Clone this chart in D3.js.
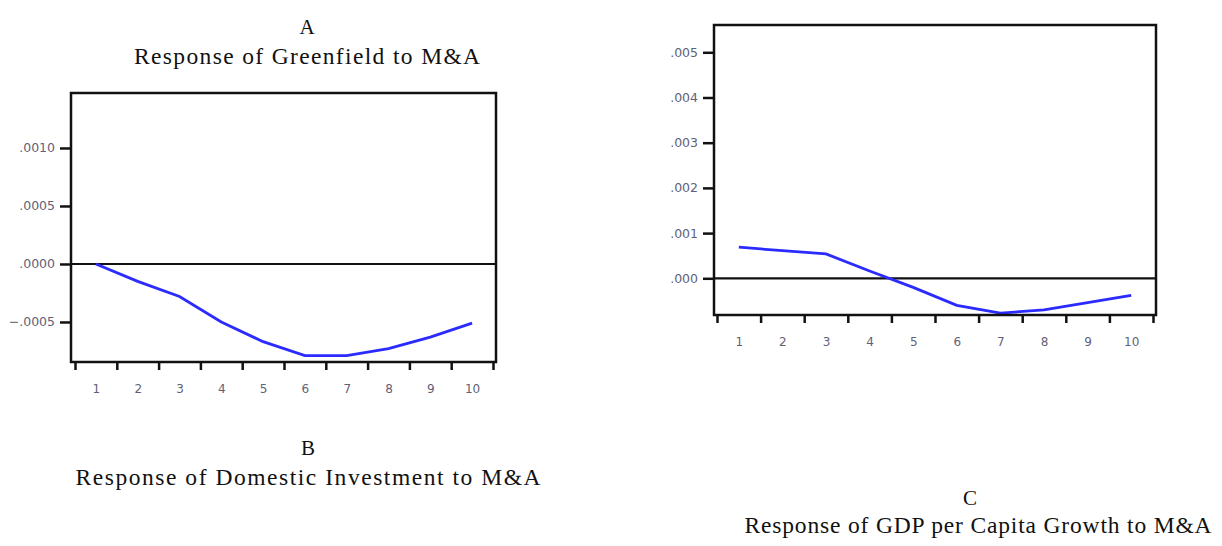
<!DOCTYPE html>
<html>
<head>
<meta charset="utf-8">
<script src="https://cdn.jsdelivr.net/npm/d3@7"></script>
<style>
  body { margin: 0; background: #fff; }
  svg { display: block; }
</style>
</head>
<body>
<svg id="chart" width="1222" height="546"></svg>
<script>
// periods 1..10
var periods = [1, 2, 3, 4, 5, 6, 7, 8, 9, 10];

// A - Response of Greenfield to M&A
var greenfield = [0.0, -0.00015, -0.00028, -0.00050, -0.00067, -0.00079, -0.00079, -0.00073, -0.00063, -0.00051];
var greenfieldTicks = [-0.0005, 0.0, 0.0005, 0.0010];

// C - Response of GDP per Capita Growth to M&A
var gdpGrowth = [0.00069, 0.00061, 0.00054, 0.00016, -0.00020, -0.00060, -0.00077, -0.00070, -0.00054, -0.00038];
var gdpTicks = [0.000, 0.001, 0.002, 0.003, 0.004, 0.005];

var svg = d3.select("#chart");

function eviewsFmt(dec) {
  var f = d3.format("." + dec + "f");
  return function(v) { return f(v).replace("0.", "."); };
}

function drawPanel(p) {
  var x = d3.scaleLinear().domain([0.5, 10.5]).range([p.x0, p.x1]);
  var y = d3.scaleLinear().domain(p.ydomain).range([p.bottom, p.top]);
  var g = svg.append("g");

  // x tick marks, between periods
  g.append("g")
    .attr("transform", "translate(0," + p.bottom + ")")
    .call(d3.axisBottom(x).tickValues(d3.range(0.5, 11, 1)).tickSize(8).tickSizeOuter(0).tickFormat(""))
    .call(function(a) {
      a.select(".domain").remove();
      a.selectAll("line").attr("stroke", "#111").attr("stroke-width", 2.5);
    });

  // x labels
  g.append("g")
    .attr("transform", "translate(0," + (p.bottom + 19) + ")")
    .call(d3.axisBottom(x).tickValues(periods).tickSize(0).tickFormat(d3.format("d")))
    .call(function(a) {
      a.select(".domain").remove();
      a.selectAll("text").attr("fill", "#5f5f78").style("font-family", "DejaVu Sans").style("font-size", "12px");
    });

  // y axis
  g.append("g")
    .attr("transform", "translate(" + p.left + ",0)")
    .call(d3.axisLeft(y).tickValues(p.ticks).tickSize(11).tickPadding(5).tickFormat(eviewsFmt(p.dec)))
    .call(function(a) {
      a.select(".domain").remove();
      a.selectAll("line").attr("stroke", "#111").attr("stroke-width", 2.5);
      a.selectAll("text").attr("fill", "#5f5f78").style("font-family", "DejaVu Sans").style("font-size", "12.5px");
    });

  // zero line
  g.append("line")
    .attr("x1", p.left).attr("x2", p.right)
    .attr("y1", y(0)).attr("y2", y(0))
    .attr("stroke", "#111").attr("stroke-width", 2.2);

  // response line
  var line = d3.line()
    .x(function(d, i) { return x(periods[i]); })
    .y(function(d) { return y(d); });
  g.append("path")
    .datum(p.values)
    .attr("d", line)
    .attr("fill", "none")
    .attr("stroke", "#2b2bff")
    .attr("stroke-width", 2.8);

  // frame
  g.append("rect")
    .attr("x", p.left).attr("y", p.top)
    .attr("width", p.right - p.left).attr("height", p.bottom - p.top)
    .attr("fill", "none").attr("stroke", "#111").attr("stroke-width", 2.5);
}

drawPanel({
  left: 71, right: 496, top: 93, bottom: 362, x0: 75, x1: 493,
  ydomain: [-0.000845, 0.001474], ticks: greenfieldTicks, dec: 4, values: greenfield
});

drawPanel({
  left: 714, right: 1156, top: 25, bottom: 315, x0: 717, x1: 1153,
  ydomain: [-0.000812, 0.005604], ticks: gdpTicks, dec: 3, values: gdpGrowth
});

// captions (w = width the line takes in the figure)
var captions = [
  { x: 307, y: 34, text: "A", w: 0 },
  { x: 307, y: 64, text: "Response of Greenfield to M&A", w: 346 },
  { x: 308, y: 455, text: "B", w: 0 },
  { x: 308, y: 485, text: "Response of Domestic Investment to M&A", w: 465 },
  { x: 970, y: 505, text: "C", w: 0 },
  { x: 978, y: 533, text: "Response of GDP per Capita Growth to M&A", w: 467 }
];

var cap = svg.selectAll("text.caption")
  .data(captions)
  .enter().append("text")
  .attr("class", "caption")
  .attr("x", function(d) { return d.x; })
  .attr("y", function(d) { return d.y; })
  .attr("text-anchor", "middle")
  .style("font-family", "Liberation Serif")
  .style("font-size", function(d) { return d.w > 0 ? "23.5px" : "21px"; })
  .attr("fill", "#111")
  .text(function(d) { return d.text; });

cap.filter(function(d) { return d.w > 0; })
  .attr("textLength", function(d) { return d.w; })
  .attr("lengthAdjust", "spacing");
</script>
</body>
</html>
